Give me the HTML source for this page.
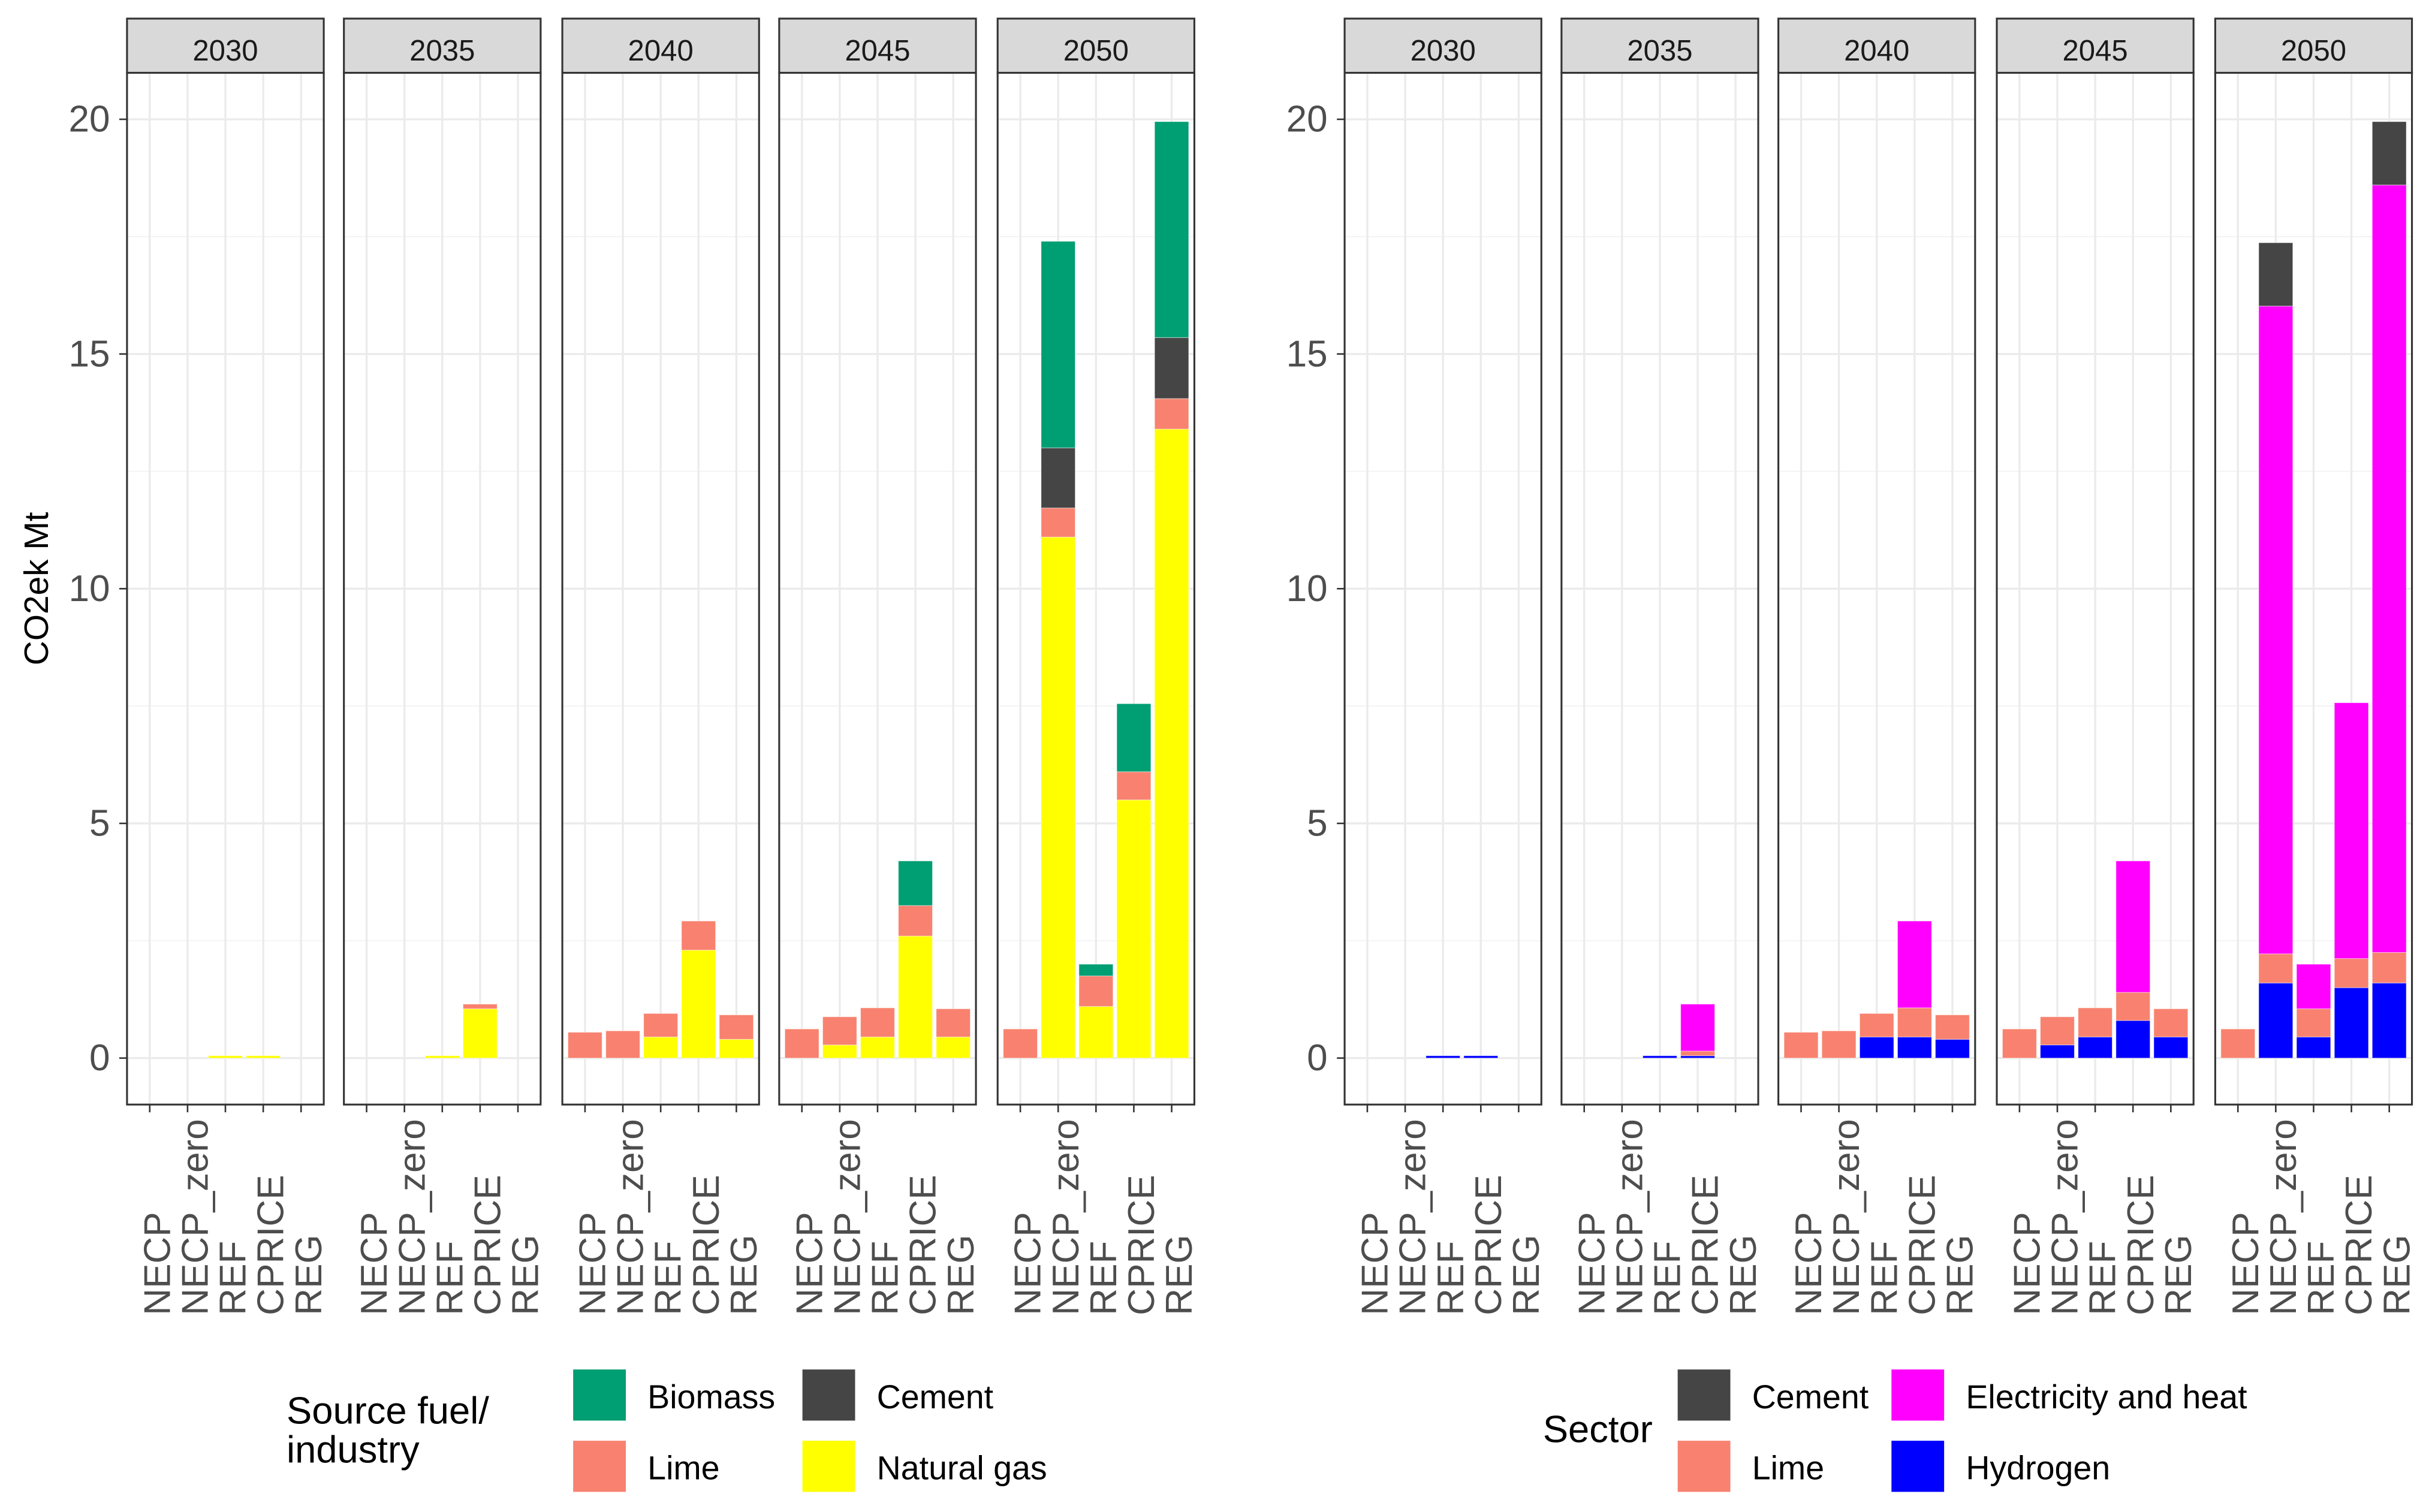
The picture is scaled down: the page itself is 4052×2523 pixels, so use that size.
<!DOCTYPE html>
<html><head><meta charset="utf-8"><style>
html,body{margin:0;padding:0;background:#fff}
svg{display:block}
text{font-family:"Liberation Sans",sans-serif}
</style></head><body>
<svg id="chart" width="4052" height="2523" viewBox="0 0 1568 976" preserveAspectRatio="none" xmlns="http://www.w3.org/2000/svg"></svg>
<script>
const years = ["2030","2035","2040","2045","2050"];
const scenarios = ["NECP","NECP_zero","REF","CPRICE","REG"];
const yTicks = [0,5,10,15,20];
// Left chart series (stack bottom->top: Natural gas, Lime, Cement, Biomass), [year][scenario]
const leftNames = ["Natural gas","Lime","Cement","Biomass"];
const leftColors = ["#FFFF00","#F8826F","#454545","#009E73"];
const gasL = [[0,0,0.05,0.05,0],[0,0,0.05,1.05,0],[0,0,0.45,2.3,0.4],[0,0.28,0.45,2.6,0.45],[0,11.1,1.1,5.5,13.4]];
const limeL = [[0,0,0,0,0],[0,0,0,0.1,0],[0.55,0.58,0.5,0.62,0.52],[0.62,0.6,0.62,0.65,0.6],[0.62,0.62,0.65,0.6,0.65]];
const cementL = [[0,0,0,0,0],[0,0,0,0,0],[0,0,0,0,0],[0,0,0,0,0],[0,1.28,0,0,1.3]];
const biomassL = [[0,0,0,0,0],[0,0,0,0,0],[0,0,0,0,0],[0,0,0,0.95,0],[0,4.4,0.25,1.45,4.6]];
// Right chart series (stack bottom->top: Hydrogen, Lime, Electricity and heat, Cement)
const rightNames = ["Hydrogen","Lime","Electricity and heat","Cement"];
const rightColors = ["#0000FF","#F8826F","#FF00FF","#454545"];
const hydR = [[0,0,0.05,0.05,0],[0,0,0.05,0.05,0],[0,0,0.45,0.45,0.4],[0,0.28,0.45,0.8,0.45],[0,1.6,0.45,1.5,1.6]];
const limeR = [[0,0,0,0,0],[0,0,0,0.1,0],[0.55,0.58,0.5,0.62,0.52],[0.62,0.6,0.62,0.6,0.6],[0.62,0.62,0.6,0.62,0.65]];
const elecR = [[0,0,0,0,0],[0,0,0,1.0,0],[0,0,0,1.85,0],[0,0,0,2.8,0],[0,13.8,0.95,5.45,16.35]];
const cementR = [[0,0,0,0,0],[0,0,0,0,0],[0,0,0,0,0],[0,0,0,0,0],[0,1.35,0,0,1.35]];

const NS="http://www.w3.org/2000/svg";
const svg=document.getElementById('chart');
function mk(tag,attrs,parent){const e=document.createElementNS(NS,tag);for(const k in attrs)e.setAttribute(k,attrs[k]);(parent||svg).appendChild(e);return e;}
const Y0=683, Y20=77;
function yScale(v){return Y0-(Y0-Y20)*v/20;}
const panelTop=47, panelBot=713, stripTop=12;

function drawChart(lefts, panelW, axisX, series, colors, tag){
  lefts.forEach((px,yi)=>{
    const g=mk('g',{});
    
    
    const unit=panelW/5.2;
    const xS=i=>px+(i+0.6)*unit;
    const s=mk('rect',{x:px,y:stripTop,width:panelW,height:panelTop-stripTop,fill:'#d9d9d9',stroke:'#333','stroke-width':1.2},g);
    
    
    const st=mk('text',{x:px+panelW/2,y:39,'text-anchor':'middle','font-size':19,fill:'#1a1a1a'},g);st.textContent=years[yi];
    
    
    for(let v=2.5;v<=20;v+=5) mk('line',{x1:px,x2:px+panelW,y1:yScale(v),y2:yScale(v),stroke:'#f2f2f2','stroke-width':0.7},g);
    yTicks.forEach(v=>mk('line',{x1:px,x2:px+panelW,y1:yScale(v),y2:yScale(v),stroke:'#ebebeb','stroke-width':1.3},g));
    scenarios.forEach((sc,i)=>mk('line',{x1:xS(i),x2:xS(i),y1:panelTop,y2:panelBot,stroke:'#ebebeb','stroke-width':1.3},g));
    const bw=unit*0.9;
    scenarios.forEach((sc,i)=>{
      let base=0;
      series.forEach((arr,k)=>{
        const v=arr[yi][i];
        if(v>0){
          const r=mk('rect',{x:xS(i)-bw/2,y:yScale(base+v),width:bw,height:yScale(base)-yScale(base+v),fill:colors[k],stroke:'#ffffff','stroke-width':0.4,'stroke-opacity':0.5},g);
          
          
        }
        base+=v;
      });
    });
    mk('rect',{x:px,y:panelTop,width:panelW,height:panelBot-panelTop,fill:'none',stroke:'#333','stroke-width':1.2},g);
    scenarios.forEach((sc,i)=>{
      mk('line',{x1:xS(i),x2:xS(i),y1:panelBot,y2:panelBot+5,stroke:'#333','stroke-width':1},g);
      const t=mk('text',{x:0,y:0,'text-anchor':'start','font-size':24,fill:'#4d4d4d',transform:`translate(${xS(i)+13},849) rotate(-90)`},g);
      t.textContent=sc;
      
      
    });
  });
  yTicks.forEach(v=>{
    mk('line',{x1:lefts[0]-5,x2:lefts[0],y1:yScale(v),y2:yScale(v),stroke:'#333','stroke-width':1});
    const t=mk('text',{x:axisX,y:yScale(v)+8,'text-anchor':'end','font-size':24,fill:'#4d4d4d'});
    t.textContent=v;
    
    
  });
}
drawChart([82,222,363,503,644],127,71,[gasL,limeL,cementL,biomassL],leftColors,'left');
drawChart([868,1008,1148,1289,1430],127,857,[hydR,limeR,elecR,cementR],rightColors,'right');

const yt=mk('text',{x:0,y:0,'text-anchor':'middle','font-size':22,fill:'#000',transform:'translate(31,380) rotate(-90)'});
yt.textContent='CO2ek Mt';



function legendItem(x,y,color,label,tag){
  const g=mk('g',{});
  
  
  mk('rect',{x:x,y:y,width:34,height:33,fill:color},g);
  const t=mk('text',{x:x+48,y:y+25,'font-size':21.5,fill:'#000'},g);t.textContent=label;
}
function ttl(x,y,s,name){const t=mk('text',{x:x,y:y,'font-size':24.5,fill:'#000'});t.textContent=s;}
ttl(185,919,'Source fuel/','left-legend-title');
ttl(185,944,'industry','left-legend-title-2');
legendItem(370,884,'#009E73','Biomass','legend-entry-biomass');
legendItem(370,930,'#F8826F','Lime','legend-entry-lime');
legendItem(518,884,'#454545','Cement','legend-entry-cement');
legendItem(518,930,'#FFFF00','Natural gas','legend-entry-natural-gas');
ttl(996,931,'Sector','right-legend-title');
legendItem(1083,884,'#454545','Cement','legend-entry-sector-cement');
legendItem(1083,930,'#F8826F','Lime','legend-entry-sector-lime');
legendItem(1221,884,'#FF00FF','Electricity and heat','legend-entry-electricity');
legendItem(1221,930,'#0000FF','Hydrogen','legend-entry-hydrogen');
</script>
</body></html>
